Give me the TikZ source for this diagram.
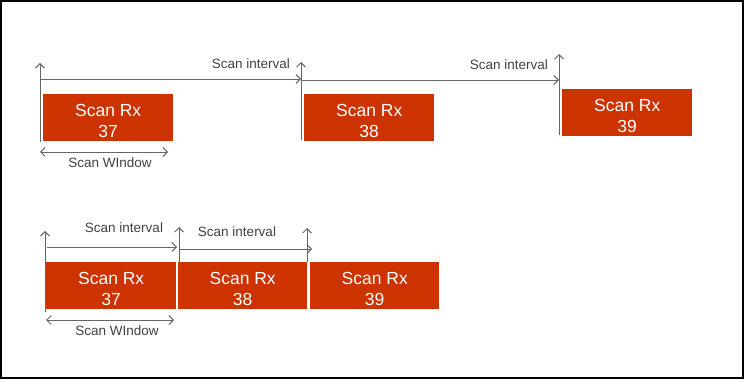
\documentclass[tikz,border=0pt]{standalone}
\usepackage{fontspec}
\setmainfont{Liberation Sans}
\usetikzlibrary{arrows.meta}
\definecolor{scanred}{HTML}{CC3300}
\definecolor{linegray}{HTML}{666666}
\definecolor{labelgray}{HTML}{404040}
\begin{document}
\begin{tikzpicture}[x=1pt,y=-1pt,
  scanbox/.style={fill=scanred,draw=none,minimum width=130pt,minimum height=47pt,anchor=north west,inner sep=0pt},
  boxtext/.style={text=white,font=\fontsize{17.5}{21}\selectfont,align=center},
  gline/.style={draw=linegray,line width=0.9pt},
  garrow/.style={gline,-{Straight Barb[length=4.5pt,width=9pt,line width=0.9pt]}},
  dblarrow/.style={gline,{Straight Barb[length=4.5pt,width=9pt,line width=0.9pt]}-{Straight Barb[length=4.5pt,width=9pt,line width=0.9pt]}},
  lbl/.style={text=labelgray,font=\fontsize{13.5}{15}\selectfont,inner sep=0pt}]
\path[use as bounding box] (0,0) rectangle (744,379);
\draw[black,line width=1.6pt] (0.8,0.8) rectangle (743.2,378.2);

% ---------- top row ----------
\node[scanbox] (t37) at (43,94) {};
\node[boxtext] at ([yshift=-3pt]t37.center) {Scan Rx\\37};
\node[scanbox] (t38) at (304,94) {};
\node[boxtext] at ([yshift=-3pt]t38.center) {Scan Rx\\38};
\node[scanbox] (t39) at (562,89) {};
\node[boxtext] at ([yshift=-3pt]t39.center) {Scan Rx\\39};

\coordinate (ta1) at (40,63);  \coordinate (tb1) at (40,142);
\coordinate (ta2) at (301,62); \coordinate (tb2) at (301,140);
\coordinate (ta3) at (559,54); \coordinate (tb3) at (559,135);
\draw[garrow] (tb1) -- (ta1);
\draw[garrow] (tb2) -- (ta2);
\draw[garrow] (tb3) -- (ta3);
\coordinate (th1s) at (40,79);  \coordinate (th1e) at (301,79);
\coordinate (th2s) at (301,80); \coordinate (th2e) at (559,80);
\draw[garrow] (th1s) -- (th1e);
\draw[garrow] (th2s) -- (th2e);
\node[lbl,anchor=east] (tl1) at (290,64) {Scan interval};
\node[lbl,anchor=east] (tl2) at (548,65) {Scan interval};
\coordinate (tw1) at (40,152); \coordinate (tw2) at (168,152);
\draw[dblarrow] (tw1) -- (tw2);
\node[lbl] (tw) at (110,163) {Scan WIndow};

% ---------- bottom row ----------
\node[scanbox,minimum width=130pt] (b37) at (46,262) {};
\node[boxtext] at ([yshift=-3pt]b37.center) {Scan Rx\\37};
\node[scanbox,minimum width=129pt] (b38) at (178,262) {};
\node[boxtext] at ([yshift=-3pt]b38.center) {Scan Rx\\38};
\node[scanbox,minimum width=129pt] (b39) at (310,262) {};
\node[boxtext] at ([yshift=-3pt]b39.center) {Scan Rx\\39};

\coordinate (ba1) at (45,231);  \coordinate (bb1) at (45,312);
\coordinate (ba2) at (179,227); \coordinate (bb2) at (179,309);
\coordinate (ba3) at (307,228); \coordinate (bb3) at (307,262);
\draw[garrow] (bb1) -- (ba1);
\draw[garrow] (bb2) -- (ba2);
\draw[garrow] (bb3) -- (ba3);
\coordinate (bh1s) at (47,247);  \coordinate (bh1e) at (177,247);
\coordinate (bh2s) at (179,249); \coordinate (bh2e) at (312,249);
\draw[garrow] (bh1s) -- (bh1e);
\draw[garrow] (bh2s) -- (bh2e);
\node[lbl] (bl1) at (124,228) {Scan interval};
\node[lbl] (bl2) at (237,232) {Scan interval};
\coordinate (bw1) at (46,320); \coordinate (bw2) at (174,320);
\draw[dblarrow] (bw1) -- (bw2);
\node[lbl] (bw) at (117,331) {Scan WIndow};
\end{tikzpicture}
\end{document}
